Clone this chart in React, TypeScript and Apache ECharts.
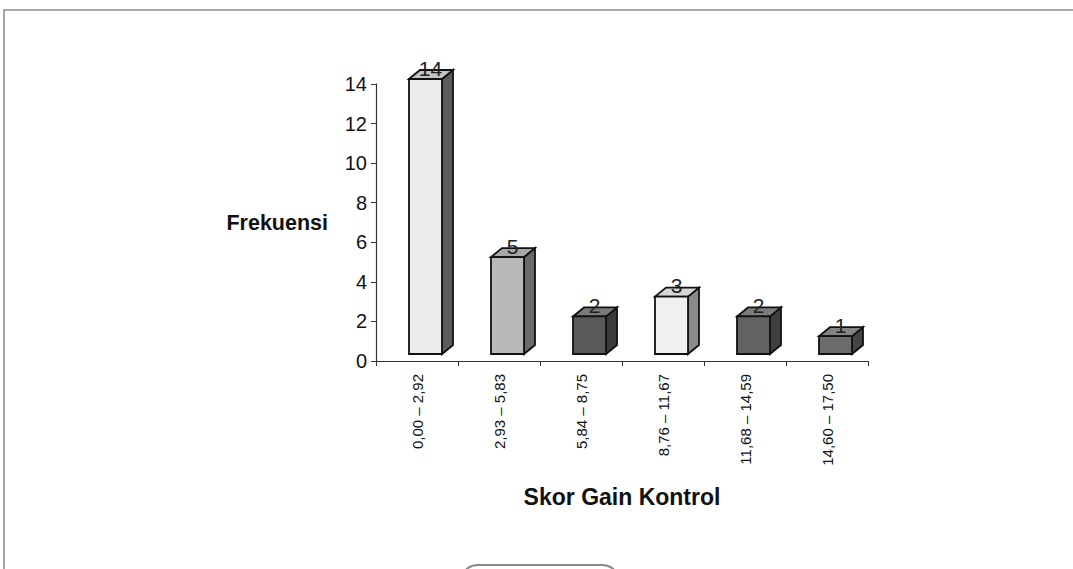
import React, { useEffect, useRef } from "react";
import * as echarts from "echarts";

const categories = ["0,00 – 2,92", "2,93 – 5,83", "5,84 – 8,75", "8,76 – 11,67", "11,68 – 14,59", "14,60 – 17,50"];
const frequencies = [14, 5, 2, 3, 2, 1];
const yTicks = { min: 0, max: 14, interval: 2 };

const frontColors = ["#ebebeb", "#b9b9b9", "#595959", "#f0f0f0", "#626262", "#6b6b6b"];
const sideColors = ["#5c5c5c", "#6a6a6a", "#3a3a3a", "#8a8a8a", "#3f3f3f", "#454545"];
const topColors = ["#c4c4c4", "#a8a8a8", "#7a7a7a", "#d6d6d6", "#7d7d7d", "#858585"];

const FONT = "Liberation Sans, Arial, sans-serif";

export default function App() {
  const ref = useRef<HTMLDivElement>(null);
  useEffect(() => {
    const chart = echarts.init(ref.current!, null, { renderer: "svg" });
    const data = frequencies.map((v, i) => [i, v]);
    chart.setOption({
      animation: false,
      backgroundColor: "#ffffff",
      grid: { left: 376, right: 205, top: 84, bottom: 208, containLabel: false },
      xAxis: {
        type: "category",
        data: categories,
        boundaryGap: true,
        axisLine: { show: true, lineStyle: { color: "#333", width: 1.2 } },
        axisTick: { show: true, alignWithLabel: false, length: 5, lineStyle: { color: "#333" } },
        axisLabel: { interval: 0, rotate: 90, fontSize: 15, color: "#111", fontFamily: FONT, margin: 13 },
        name: "Skor Gain Kontrol",
        nameLocation: "middle",
        nameGap: 124,
        nameTextStyle: { fontSize: 23, fontWeight: "bold", color: "#111", fontFamily: FONT },
      },
      yAxis: {
        type: "value",
        min: yTicks.min,
        max: yTicks.max,
        interval: yTicks.interval,
        axisLine: { show: true, lineStyle: { color: "#333", width: 1.2 } },
        axisTick: { show: true, length: 5, lineStyle: { color: "#333" } },
        splitLine: { show: false },
        axisLabel: { fontSize: 20, color: "#111", fontFamily: FONT, margin: 9 },
        name: "Frekuensi",
        nameLocation: "middle",
        nameRotate: 0,
        nameGap: 48,
        nameTextStyle: { fontSize: 21.5, fontWeight: "bold", color: "#111", fontFamily: FONT, align: "right" },
      },
      graphic: [
        { type: "rect", shape: { x: 4, y: 10, width: 1080, height: 580 }, style: { fill: "none", stroke: "#8a8a8a", lineWidth: 1.5 }, silent: true, z: -1 },
        { type: "rect", shape: { x: 460, y: 565, width: 160, height: 40, r: 18 }, style: { fill: "none", stroke: "#8a8a8a", lineWidth: 2 }, silent: true, z: -1 },
      ],
      series: [
        {
          type: "custom",
          data,
          encode: { x: 0, y: 1 },
          renderItem: (params: any, api: any) => {
            const idx = api.value(0);
            const v = api.value(1);
            const base = api.coord([idx, 0]);
            const top = api.coord([idx, v]);
            const cx = base[0];
            const fl = cx - 8;
            const fr = cx + 25;
            const yb = base[1] - 7;
            const yt = top[1] - 5;
            const dx = 11;
            const dy = 9;
            const i = params.dataIndex;
            const stroke = { stroke: "#111", lineWidth: 1.8 };
            return {
              type: "group",
              children: [
                { type: "polygon", shape: { points: [[fr, yt], [fr + dx, yt - dy], [fr + dx, yb - dy], [fr, yb]] }, style: { fill: sideColors[i], ...stroke } },
                { type: "polygon", shape: { points: [[fl, yt], [fl + dx, yt - dy], [fr + dx, yt - dy], [fr, yt]] }, style: { fill: topColors[i], ...stroke } },
                { type: "rect", shape: { x: fl, y: yt, width: fr - fl, height: yb - yt }, style: { fill: frontColors[i], ...stroke } },
                {
                  type: "text",
                  style: {
                    text: String(v),
                    x: (fl + fr) / 2 + 5,
                    y: yt - 11,
                    align: "center",
                    verticalAlign: "middle",
                    fontSize: 21,
                    fontFamily: FONT,
                    fill: "#222",
                  },
                },
              ],
            };
          },
        },
      ],
    });
    return () => chart.dispose();
  }, []);
  return <div ref={ref} style={{ position: "fixed", left: 0, top: 0, width: 1073, height: 569 }} />;
}
